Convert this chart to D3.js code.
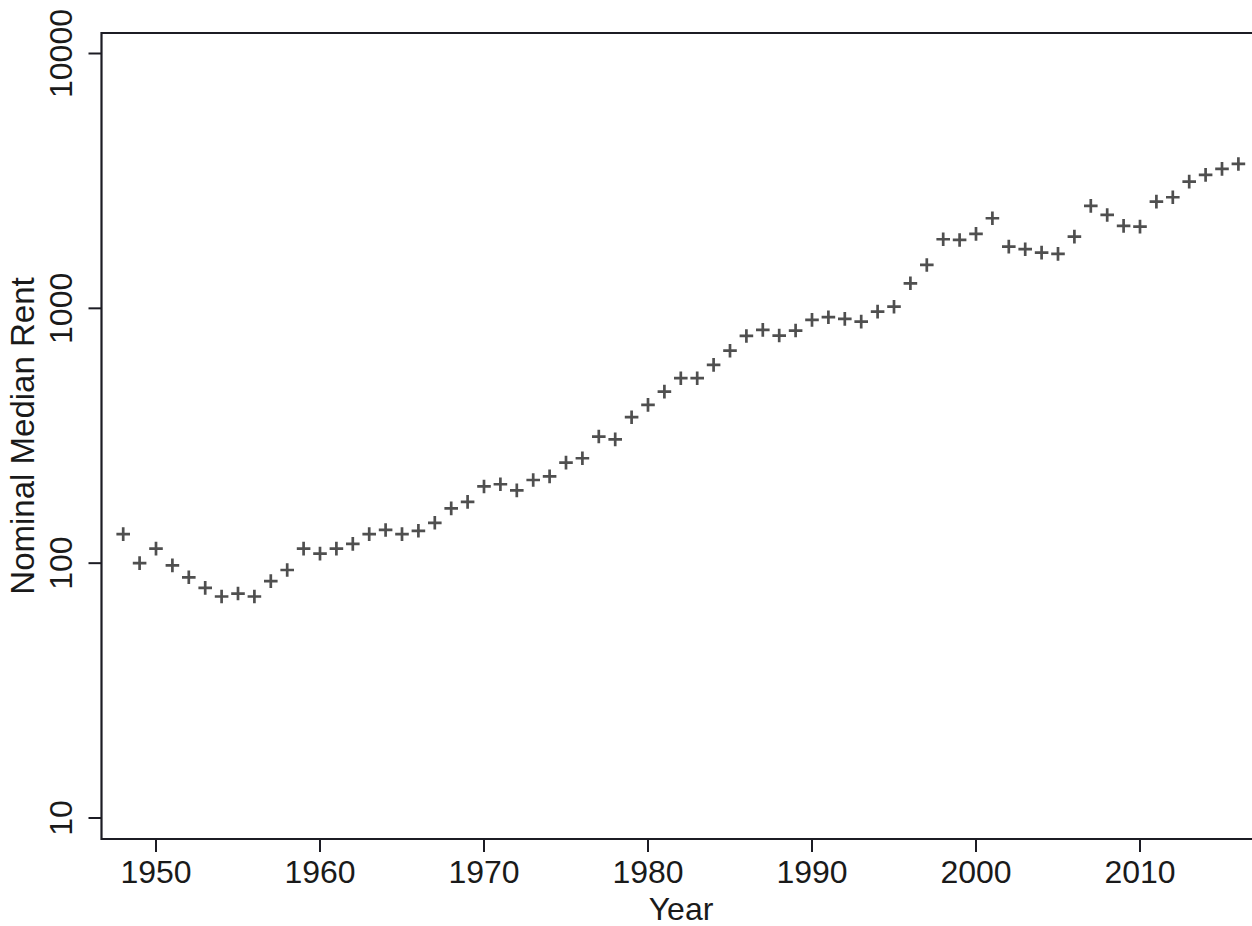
<!DOCTYPE html>
<head>
  <meta charset="utf-8">
  <script src="https://d3js.org/d3.v7.min.js"></script>
  <style>
html, body { margin: 0; background: #fff; overflow: hidden; }
svg { display: block; }
text { font-family: "Liberation Sans", Arial, sans-serif; fill: #1a1a1a; }
.frame { stroke: #1c1c24; stroke-width: 2.2px; fill: none; }
.tick-mark { stroke: #1c1c24; stroke-width: 2px; }
.marker { stroke: #4f4f4f; stroke-width: 2.7px; fill: none; }
  </style>
</head>

<body>
  <script>

    // data
    var years = [1948, 1949, 1950, 1951, 1952, 1953, 1954, 1955, 1956, 1957,
                 1958, 1959, 1960, 1961, 1962, 1963, 1964, 1965, 1966, 1967,
                 1968, 1969, 1970, 1971, 1972, 1973, 1974, 1975, 1976, 1977,
                 1978, 1979, 1980, 1981, 1982, 1983, 1984, 1985, 1986, 1987,
                 1988, 1989, 1990, 1991, 1992, 1993, 1994, 1995, 1996, 1997,
                 1998, 1999, 2000, 2001, 2002, 2003, 2004, 2005, 2006, 2007,
                 2008, 2009, 2010, 2011, 2012, 2013, 2014, 2015, 2016];
    var rents = [130, 100, 114, 98, 88, 80, 74, 76, 74, 85,
                 94, 114, 109, 114, 119, 130, 135, 130, 134, 144,
                 164, 174, 200, 204, 193, 212, 219, 248, 258, 314,
                 306, 374, 418, 471, 532, 532, 600, 682, 779, 823,
                 782, 818, 901, 923, 909, 887, 971, 1015, 1254, 1480,
                 1867, 1855, 1959, 2257, 1747, 1706, 1654, 1635, 1911, 2523,
                 2325, 2106, 2093, 2623, 2729, 3143, 3339, 3525, 3687];
    var xTicks = [1950, 1960, 1970, 1980, 1990, 2000, 2010];
    var yTicks = [10, 100, 1000, 10000];

    var width = 1252, height = 926;
    var plotLeft = 101.5, plotTop = 33, plotBottom = 839;

    var svg = d3.select("body").append("svg")
      .attr("width", width)
      .attr("height", height);

    var x = d3.scaleLinear().domain([1950, 2010]).range([156, 1140]);
    var y = d3.scaleLog().domain([10, 10000]).range([818, 53.5]);

    // frame (right side is cut off in the original)
    svg.append("path")
      .attr("class", "frame")
      .attr("d", "M" + (width + 2) + "," + plotTop + "H" + plotLeft + "V" + plotBottom + "H" + (width + 2));

    // y axis ticks + labels
    var yg = svg.append("g");
    yg.selectAll("line").data(yTicks).enter().append("line")
      .attr("class", "tick-mark")
      .attr("x1", plotLeft - 13).attr("x2", plotLeft)
      .attr("y1", d => y(d)).attr("y2", d => y(d));
    yg.selectAll("text").data(yTicks).enter().append("text")
      .attr("transform", d => "translate(72," + y(d) + ") rotate(-90)")
      .attr("text-anchor", "middle")
      .style("font-size", "32px")
      .text(d => d);

    // x axis ticks + labels
    var xg = svg.append("g");
    xg.selectAll("line").data(xTicks).enter().append("line")
      .attr("class", "tick-mark")
      .attr("x1", d => x(d)).attr("x2", d => x(d))
      .attr("y1", plotBottom).attr("y2", plotBottom + 13);
    xg.selectAll("text").data(xTicks).enter().append("text")
      .attr("x", d => x(d))
      .attr("y", 883)
      .attr("text-anchor", "middle")
      .style("font-size", "32px")
      .text(d => d);

    // axis titles
    svg.append("text")
      .attr("x", 681).attr("y", 920)
      .attr("text-anchor", "middle")
      .style("font-size", "32px")
      .text("Year");
    svg.append("text")
      .attr("transform", "translate(34,436) rotate(-90)")
      .attr("text-anchor", "middle")
      .style("font-size", "33px")
      .text("Nominal Median Rent");

    // plus markers
    var arm = 6.8;
    svg.append("g").selectAll("path")
      .data(years.map((yr, i) => ({year: yr, rent: rents[i]})))
      .enter().append("path")
      .attr("class", "marker")
      .attr("d", function(d) {
        var cx = x(d.year), cy = y(d.rent);
        return "M" + (cx - arm) + "," + cy + "H" + (cx + arm) +
               "M" + cx + "," + (cy - arm) + "V" + (cy + arm);
      });

  </script>
</body>
